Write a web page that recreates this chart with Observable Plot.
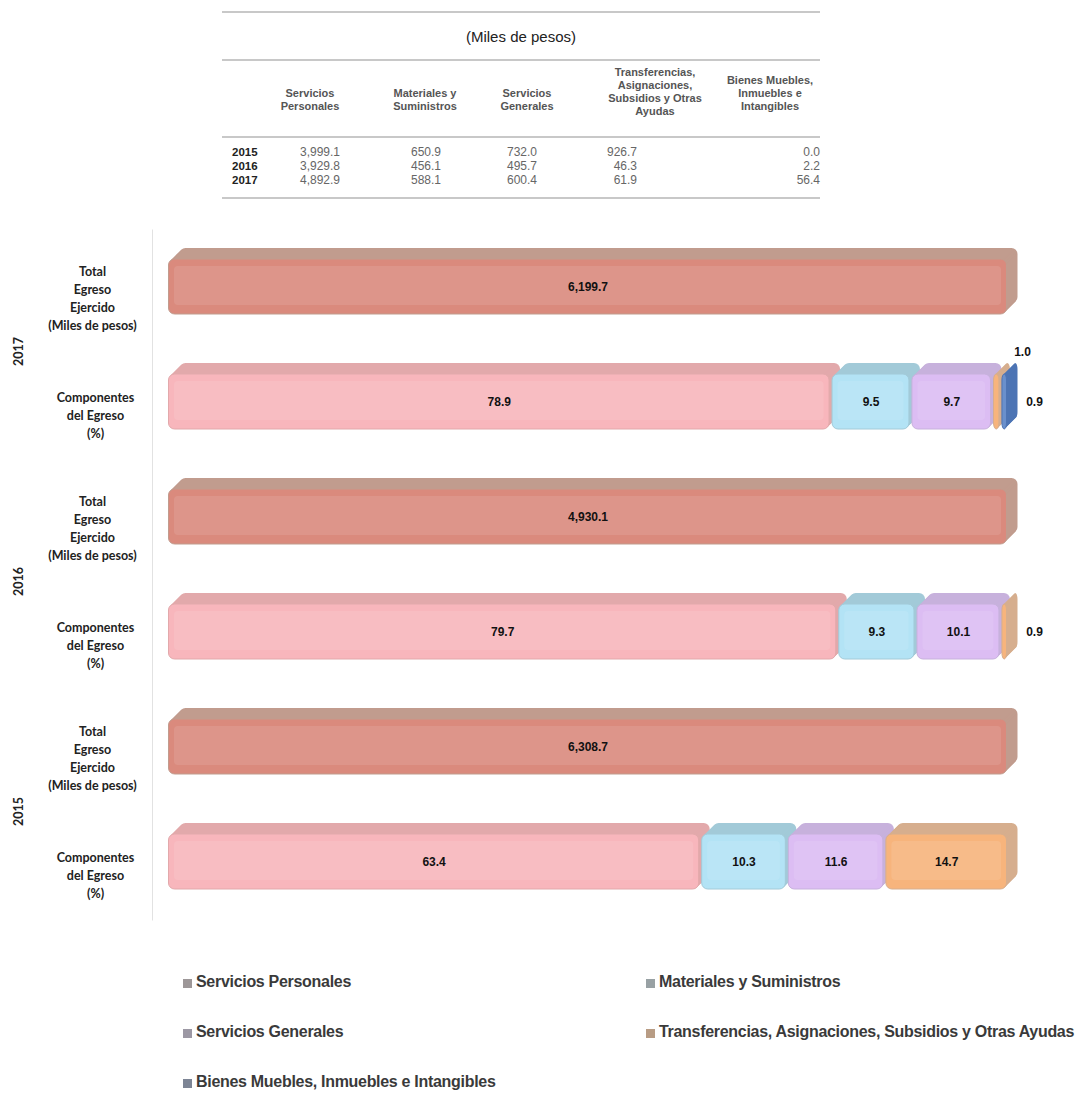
<!DOCTYPE html>
<html>
<head>
<meta charset="utf-8">
<script src="https://cdn.jsdelivr.net/npm/d3@7"></script>
<script src="https://cdn.jsdelivr.net/npm/@observablehq/plot@0.6"></script>
<style>
  html, body { margin: 0; padding: 0; background: #fff; overflow: hidden; }
  #page { position: relative; width: 1091px; height: 1096px; }
  .abs { position: absolute; white-space: pre; }
  .rule { position: absolute; height: 2px; background: #c8c8c8; }
  .hdr { font-family: "Liberation Sans Narrow", "Liberation Sans", sans-serif; font-size: 11px; color: #555; text-align: center; line-height: 13px; font-weight: bold; }
  .val { font-family: "Liberation Sans Narrow", "Liberation Sans", sans-serif; font-size: 12px; color: #666; text-align: right; line-height: 14px; }
  .yr { font-family: "Liberation Sans", sans-serif; font-size: 11.5px; color: #222; font-weight: bold; line-height: 14px; }
  .leg { font-family: "Liberation Sans Narrow", sans-serif; font-size: 16px; letter-spacing: -0.3px; color: #3a3a3a; font-weight: bold; }
  .sw { position: absolute; width: 9px; height: 9px; }
</style>
</head>
<body>
<div id="page"></div>
<script>
// ---------- data ----------
const seriesNames = [
  "Servicios Personales",
  "Materiales y Suministros",
  "Servicios Generales",
  "Transferencias, Asignaciones, Subsidios y Otras Ayudas",
  "Bienes Muebles, Inmuebles e Intangibles"
];
const tableHeaders = [
  "Servicios\nPersonales",
  "Materiales y\nSuministros",
  "Servicios\nGenerales",
  "Transferencias,\nAsignaciones,\nSubsidios y Otras\nAyudas",
  "Bienes Muebles,\nInmuebles e\nIntangibles"
];
const tableYears = ["2015", "2016", "2017"];
const milesServPersonales = [3999.1, 3929.8, 4892.9];
const milesMateriales = [650.9, 456.1, 588.1];
const milesServGenerales = [732.0, 495.7, 600.4];
const milesTransferencias = [926.7, 46.3, 61.9];
const milesBienes = [0.0, 2.2, 56.4];

const chartYears = ["2017", "2016", "2015"];
const totalEgreso = [6199.7, 4930.1, 6308.7];          // per chartYears
const pct2017 = [78.9, 9.5, 9.7, 1.0, 0.9];
const pct2016 = [79.7, 9.3, 10.1, 0.9, 0.0];
const pct2015 = [63.4, 10.3, 11.6, 14.7, 0.0];

const labelTotal = "Total\nEgreso\nEjercido\n(Miles de pesos)";
const labelComp = "Componentes\ndel Egreso\n(%)";

// ---------- styles ----------
const frontColors = ["#f8b6bc", "#b3e3f5", "#dcbdf3", "#f7b47c", "#6a90cc"];
const depthColors = ["#e2a9ab", "#a2cad8", "#c7b1dc", "#d6ae8e", "#4d74b4"];
const totalFront = "#da8a7d";
const totalDepth = "#c19c8e";
const legendSw = ["#9d9798", "#98a1a4", "#9c98a4", "#b89c84", "#7d8595"];

const page = document.getElementById("page");
function div(cls, style, text) {
  const d = document.createElement("div");
  d.className = cls;
  Object.assign(d.style, style);
  if (text != null) d.textContent = text;
  page.appendChild(d);
  return d;
}

// ---------- table ----------
div("rule", {left: "222px", top: "11px", width: "598px"});
div("abs", {left: "222px", top: "28px", width: "598px", textAlign: "center",
  fontFamily: "'Liberation Sans', sans-serif", fontSize: "15px", color: "#222"}, "(Miles de pesos)");
div("rule", {left: "222px", top: "59px", width: "598px"});
div("rule", {left: "222px", top: "136px", width: "598px"});
div("rule", {left: "222px", top: "197px", width: "598px"});

const hdrCenters = [310, 425, 527, 655, 770];
const hdrTops = [87, 87, 87, 66, 74];
const valRight = [340, 441, 537, 637, 820];
const tableCols = [milesServPersonales, milesMateriales, milesServGenerales, milesTransferencias, milesBienes];
const fmt = d3.format(",.1f");
tableHeaders.forEach((h, i) => {
  div("abs hdr", {left: (hdrCenters[i] - 60) + "px", width: "120px", top: hdrTops[i] + "px"}, h);
});
tableYears.forEach((y, r) => {
  const top = 145 + r * 14;
  div("abs yr", {left: "232px", top: top + "px"}, y);
  tableCols.forEach((col, c) => {
    div("abs val", {left: (valRight[c] - 80) + "px", width: "80px", top: top + "px"}, fmt(col[r]));
  });
});

// ---------- chart data ----------
const pcts = {"2017": pct2017, "2016": pct2016, "2015": pct2015};
const rowKeys = [];
const segs = [];
const rowLabels = [];
chartYears.forEach((yr, i) => {
  const tk = yr + "|T", ck = yr + "|C";
  rowKeys.push(tk, ck);
  rowLabels.push({row: tk, text: labelTotal, kind: "T"}, {row: ck, text: labelComp, kind: "C"});
  segs.push({row: tk, x1: 0, x2: 100, front: totalFront, depth: totalDepth, label: fmt(totalEgreso[i]), v: 100});
  let acc = 0;
  const p = pcts[yr];
  const lastNonZero = p.reduce((m, v, j) => v > 0 ? j : m, 0);
  p.forEach((v, j) => {
    if (v <= 0) return;
    segs.push({row: ck, x1: acc, x2: acc + v, front: frontColors[j], depth: depthColors[j],
      label: d3.format(".1f")(v), v, small: v < 5, place: j === lastNonZero ? "right" : "above"});
    acc += v;
  });
});
const bigSegs = segs.filter(d => !d.small);
const smallRight = segs.filter(d => d.small && d.place === "right");
const smallAbove = segs.filter(d => d.small && d.place === "above");

const labelFont = {fontFamily: "Lato, sans-serif", fontWeight: "bold", fontSize: 12.5, fill: "#222"};
const valFont = {fontFamily: "'Liberation Sans Narrow', sans-serif", fontWeight: "bold", fontSize: 12, fill: "#111"};

const D = 11;
const marks = [];
marks.push(Plot.frame({anchor: "left", dx: -15, stroke: "#e2e2e2"}));
for (let k = D; k >= 1; k--) {
  marks.push(Plot.barX(segs, {x1: "x1", x2: "x2", y: "row", fill: d => d.depth, dx: k, dy: -k,
    rx: 6, insetLeft: 1.5, insetRight: 1.5}));
}
marks.push(Plot.barX(segs, {x1: "x1", x2: "x2", y: "row", fill: d => d.front, stroke: d => d.depth,
  strokeWidth: 1, rx: 6, insetLeft: 1.5, insetRight: 1.5}));
marks.push(Plot.barX(segs.filter(d => d.x2 - d.x1 > 3), {x1: "x1", x2: "x2", y: "row", fill: "#fff", fillOpacity: 0.1,
  rx: 4, insetLeft: 7, insetRight: 7, insetTop: 7, insetBottom: 9}));
marks.push(Plot.text(bigSegs, {x: d => (d.x1 + d.x2) / 2, y: "row", text: "label", ...valFont}));
marks.push(Plot.text(smallRight, {x: d => 100, y: "row", text: "label", dx: 26, ...valFont}));
marks.push(Plot.text(smallAbove, {x: d => 100, y: "row", text: "label", dx: 14, dy: -50, ...valFont}));
marks.push(Plot.text(rowLabels.filter(d => d.kind === "T"), {frameAnchor: "left", y: "row", text: "text",
  dx: -75, dy: 10, textAnchor: "middle", lineHeight: 1.45, ...labelFont}));
marks.push(Plot.text(rowLabels.filter(d => d.kind === "C"), {frameAnchor: "left", y: "row", text: "text",
  dx: -72, dy: 12, textAnchor: "middle", lineHeight: 1.45, ...labelFont}));
marks.push(Plot.text(rowLabels.filter(d => d.kind === "T"), {frameAnchor: "left", y: "row",
  text: d => d.row.split("|")[0], dx: -149, dy: 79, rotate: -90, ...labelFont}));

const chart = Plot.plot({
  width: 1091,
  height: 740,
  marginLeft: 167,
  marginRight: 83,
  marginTop: 29.5,
  marginBottom: 20.5,
  x: {domain: [0, 100], axis: null},
  y: {domain: rowKeys, axis: null, paddingInner: 0.52, paddingOuter: 0.26},
  color: {type: "identity"},
  style: {background: "transparent", overflow: "visible"},
  marks
});
chart.style.position = "absolute";
chart.style.left = "0px";
chart.style.top = "200px";
page.appendChild(chart);

// ---------- legend ----------
const legPos = [[183, 983], [646, 983], [183, 1033], [646, 1033], [183, 1083]];
seriesNames.forEach((s, i) => {
  const [x, y] = legPos[i];
  div("sw", {left: x + "px", top: (y - 4) + "px", background: legendSw[i]});
  div("abs leg", {left: (x + 13) + "px", top: (y - 10) + "px"}, s);
});
</script>
</body>
</html>
